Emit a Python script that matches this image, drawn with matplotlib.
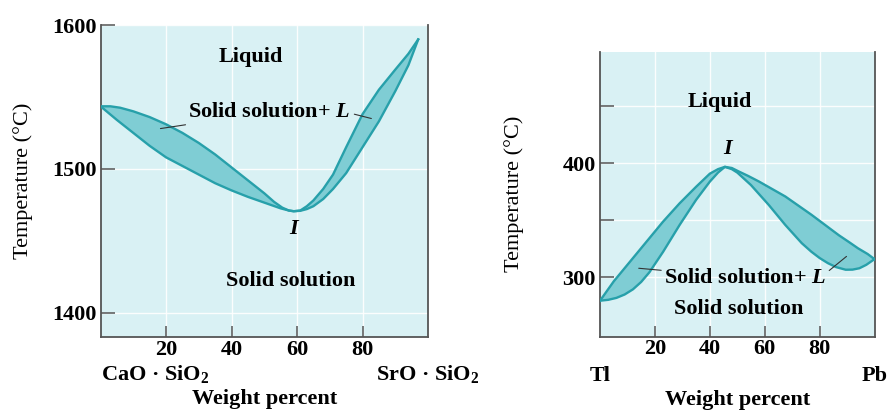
import matplotlib
matplotlib.use('Agg')
import matplotlib.pyplot as plt

plt.rcParams['font.family'] = ['Liberation Serif', 'DejaVu Serif']
plt.rcParams['font.weight'] = 'bold'
plt.rcParams['mathtext.fontset'] = 'custom'
plt.rcParams['mathtext.rm'] = 'Liberation Serif:bold'
plt.rcParams['mathtext.it'] = 'Liberation Serif:italic:bold'
plt.rcParams['mathtext.bf'] = 'Liberation Serif:bold'
plt.rcParams['mathtext.default'] = 'rm'

# CaO.SiO2 - SrO.SiO2 (minimum at I)
cs_liq_x = [0, 3, 6, 10, 15, 20, 25, 30, 35, 40, 45, 50, 53, 55.5, 57.5, 59, 61, 63, 65, 68, 71, 75, 80, 85,
            90, 94, 97]
cs_liq_t = [1543.5, 1543.5, 1542.5, 1540, 1536, 1531, 1525, 1518, 1510, 1501, 1492, 1483, 1477, 1473, 1471,
            1470.5, 1471, 1474, 1478, 1486, 1496, 1515, 1538, 1555, 1569, 1580, 1590]
cs_sol_x = [0, 5, 10, 15, 20, 25, 30, 35, 40, 45, 50, 55, 57.5, 59, 61, 63, 65, 68, 71, 75, 80, 85, 90, 94, 97]
cs_sol_t = [1543.5, 1534, 1525, 1516, 1508, 1502, 1496, 1490, 1485, 1480.5, 1476.5, 1472.5, 1471, 1470.5,
            1470.8, 1472, 1474, 1479, 1486, 1497, 1515, 1533, 1554, 1572, 1590]

# Tl - Pb (maximum at I)
tp_liq_x = [0, 5, 11, 17, 23, 29, 35, 40, 43, 45.5, 48, 50.5, 54, 58, 67.5, 77, 87, 91, 94, 97.5, 100]
tp_liq_t = [279.5, 296.5, 314, 331.5, 349, 365, 379.5, 391, 395, 397, 396, 393, 389, 384, 371, 355, 337,
            330.5, 325.5, 320.5, 316]
tp_sol_x = [0, 3, 6, 9, 12, 15, 18, 23, 29, 35, 40, 43, 45.5, 48, 50, 55, 61.5, 67.5, 73.5, 77, 80, 83, 86,
            89.5, 92, 94.5, 97, 98.5, 100]
tp_sol_t = [279.5, 280.3, 282, 285, 289.5, 296, 304.5, 322.5, 346, 368, 384, 392, 397, 395, 392, 381, 363.5,
            346, 330, 322.5, 317, 312.5, 309, 306.7, 306.8, 308, 311, 313.5, 316]

x_ticks = [20, 40, 60, 80]

bg = '#d9f1f4'
fill_c = '#7fcdd4'
line_c = '#27a0aa'
spine_c = '#555555'
fs = 16

fig = plt.figure(figsize=(8.88, 4.11), dpi=100)
ax1 = fig.add_axes([0.1132, 0.180, 0.3688, 0.759])
ax2 = fig.add_axes([0.6757, 0.181, 0.3091, 0.693])


def style(ax):
    ax.set_facecolor(bg)
    ax.spines['top'].set_visible(False)
    for s in ['left', 'right', 'bottom']:
        ax.spines[s].set_color(spine_c)
        ax.spines[s].set_linewidth(1.3)
    ax.grid(True, color='white', lw=1.0, alpha=0.9)
    ax.set_axisbelow(True)
    ax.tick_params(axis='y', direction='in', length=10, width=1.1, color=spine_c,
                   labelsize=fs, pad=3)
    ax.tick_params(axis='x', direction='in', length=8, width=1.1, color=spine_c,
                   labelsize=fs, pad=2)
    ax.set_xlim(0, 100)
    ax.set_xticks(x_ticks)


def lens(ax, lx, lt, sx, st):
    ax.fill(lx + sx[::-1], lt + st[::-1], color=fill_c, lw=0, zorder=2)
    ax.plot(lx, lt, color=line_c, lw=1.7, zorder=3)
    ax.plot(sx, st, color=line_c, lw=1.7, zorder=3)


# left panel
style(ax1)
ax1.set_ylim(1383, 1600)
ax1.set_yticks([1400, 1500, 1600])
lens(ax1, cs_liq_x, cs_liq_t, cs_sol_x, cs_sol_t)
ax1.set_ylabel('Temperature (°C)', fontsize=fs)
ax1.yaxis.set_label_coords(-0.206, 0.5)
ax1.text(0, -0.118, 'CaO · SiO$_2$', transform=ax1.get_xaxis_transform(), ha='left', va='center', fontsize=fs)
ax1.text(100, -0.118, 'SrO · SiO$_2$', transform=ax1.get_xaxis_transform(), ha='center', va='center', fontsize=fs)
ax1.text(50, -0.2, 'Weight percent', transform=ax1.get_xaxis_transform(), ha='center', va='center', fontsize=fs)
ax1.text(46, 1578, 'Liquid', ha='center', va='center', fontsize=fs)
ax1.text(58, 1422, 'Solid solution', ha='center', va='center', fontsize=fs)
ax1.text(59, 1458, 'I', ha='center', va='center', fontsize=fs, style='italic')
ax1.annotate('Solid solution+ $\\mathit{L}$', xy=(18.3, 1528), xytext=(26.8, 1539.5),
             ha='left', va='center', fontsize=fs,
             arrowprops=dict(arrowstyle='-', color='#333333', lw=0.8, shrinkA=0, shrinkB=0))
ax1.annotate('', xy=(82.7, 1535), xytext=(77.5, 1538),
             arrowprops=dict(arrowstyle='-', color='#333333', lw=0.8, shrinkA=0, shrinkB=0))

# right panel
style(ax2)
ax2.set_ylim(248, 498)
ax2.set_yticks([300, 350, 400, 450], labels=['300', '', '400', ''])
lens(ax2, tp_liq_x, tp_liq_t, tp_sol_x, tp_sol_t)
ax2.set_ylabel('Temperature (°C)', fontsize=fs)
ax2.yaxis.set_label_coords(-0.277, 0.5)
ax2.text(0, -0.138, 'Tl', transform=ax2.get_xaxis_transform(), ha='center', va='center', fontsize=fs)
ax2.text(100, -0.138, 'Pb', transform=ax2.get_xaxis_transform(), ha='center', va='center', fontsize=fs)
ax2.text(50, -0.222, 'Weight percent', transform=ax2.get_xaxis_transform(), ha='center', va='center', fontsize=fs)
ax2.text(43.5, 454, 'Liquid', ha='center', va='center', fontsize=fs)
ax2.text(46.3, 413, 'I', ha='center', va='center', fontsize=fs, style='italic')
ax2.text(50.4, 272, 'Solid solution', ha='center', va='center', fontsize=fs)
ax2.annotate('Solid solution+ $\\mathit{L}$', xy=(14.1, 308), xytext=(23.3, 299.5),
             ha='left', va='center', fontsize=fs,
             arrowprops=dict(arrowstyle='-', color='#333333', lw=0.8, shrinkA=0, shrinkB=0))
ax2.annotate('', xy=(89.8, 318.4), xytext=(83.5, 306),
             arrowprops=dict(arrowstyle='-', color='#333333', lw=0.8, shrinkA=0, shrinkB=0))

fig.savefig('out.png', dpi=100)
